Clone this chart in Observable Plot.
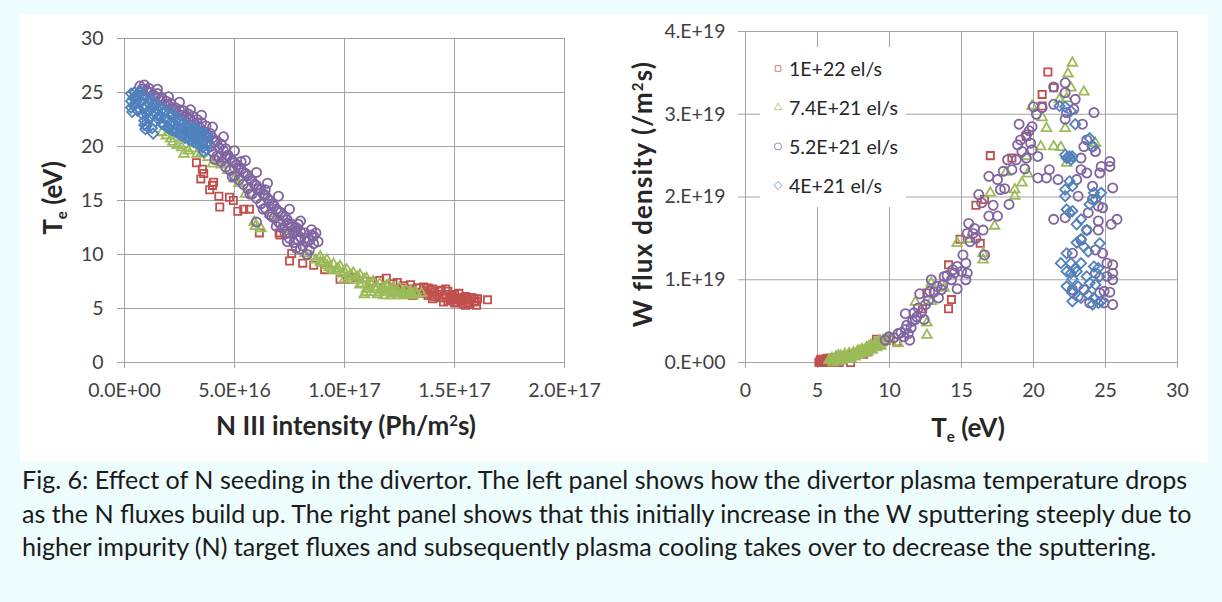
<!DOCTYPE html>
<html><head><meta charset="utf-8">
<script src="https://cdn.jsdelivr.net/npm/d3@7"></script>
<script src="https://cdn.jsdelivr.net/npm/@observablehq/plot@0.6"></script>
<style>
html,body{margin:0;padding:0;}
body{width:1222px;height:602px;background:#edfcfd;position:relative;overflow:hidden;font-family:Lato,"Open Sans",sans-serif;color:#262626;}
#panel{position:absolute;left:20px;top:14px;width:1188px;height:448px;background:#ffffff;}
.chart{position:absolute;top:0;}
.ttl{position:absolute;font-weight:bold;font-size:26px;color:#262626;white-space:nowrap;transform:translate(-50%,-50%);}
.ttl.rot{transform:translate(-50%,-50%) rotate(-90deg);}
.ttl sub{font-size:15px;vertical-align:-5px;}
.ttl sup{font-size:15px;vertical-align:9px;line-height:0;}
#legend{position:absolute;left:760px;top:47px;width:146px;height:160px;background:#fff;}
.lg{position:absolute;left:12px;font-size:19.5px;color:#262626;white-space:nowrap;display:flex;align-items:center;transform:translateY(-50%);}
.lg svg{margin-right:5px;}
#caption{position:absolute;left:22px;top:463px;font-size:21px;line-height:33.5px;color:#1a1a1a;white-space:nowrap;}
</style>
</head><body>
<div id="panel"></div>
<div id="left" class="chart" style="left:20px"></div>
<div id="right" class="chart" style="left:640px"></div>
<div class="ttl rot" style="left:53px;top:198px">T<sub>e</sub> (eV)</div>
<div class="ttl" style="left:346px;top:425px">N III intensity (Ph/m<sup>2</sup>s)</div>
<div class="ttl rot" style="left:642px;top:194px;letter-spacing:1.2px">W flux density (/m<sup>2</sup>s)</div>
<div class="ttl" style="left:968px;top:428px">T<sub>e</sub> (eV)</div>
<div id="legend"></div>
<div id="caption"></div>
<script>
// ---------- series metadata ----------
const seriesNames = ["1E+22 el/s", "7.4E+21 el/s", "5.2E+21 el/s", "4E+21 el/s"];
const seriesColors = ["#C0504D", "#9BBB59", "#8064A2", "#4F81BD"];
const seriesSymbols = ["square2", "triangle2", "circle", "diamond2"];

// ---------- left panel: [N III intensity (1e16 Ph/m2s), Te (eV)] ----------
const leftRed = [[3.27,18.5],[3.54,17.9],[3.6,17.5],[3.47,17.0],[4.05,16.7],[4.0,16.4],[3.87,16.0],[4.29,15.4],[4.33,14.4],[4.77,15.3],[4.95,15.0],[5.15,14.0],[5.42,14.2],[5.68,14.2],[6.13,12.0],[7.03,12.0],[7.07,11.8],[7.5,9.4],[7.6,10.1],[8.1,9.2],[8.6,9.0],[9.1,8.6],[9.8,7.7],[10.2,7.7],[11.2,7.5],[11.9,7.8],[12.4,7.4],[12.7,7.1],[12.9,6.8],[13.0,7.2],[13.2,6.5],[13.4,6.9],[13.5,6.4],[13.6,7.0],[13.8,6.2],[13.9,6.7],[14.0,5.9],[14.1,6.5],[14.3,6.0],[14.4,6.7],[14.5,5.6],[14.6,6.3],[14.7,6.6],[14.8,5.8],[14.9,6.2],[15.0,5.5],[15.1,6.0],[15.2,6.4],[15.3,5.7],[15.4,5.4],[15.5,6.1],[15.6,5.8],[15.7,5.4],[15.8,6.0],[15.9,5.6],[16.0,5.3],[16.05,5.9],[16.5,5.8],[13.6,6.6],[14.2,6.3],[14.8,6.1],[15.3,5.9],[13.1,6.2],[14.0,6.8],[15.0,6.3],[13.3,6.9],[13.7,6.4],[14.1,6.1],[14.3,6.6],[14.5,6.0],[14.7,5.7],[14.9,5.9],[15.1,5.6],[15.2,5.8],[15.4,6.0],[15.6,5.5],[15.7,6.0],[15.9,5.9],[16.0,5.7],[15.5,5.3],[14.6,6.8],[13.8,6.9],[12.6,6.9],[12.2,7.3],[11.6,7.6],[10.5,7.9]];
const leftGreen = [[1.7,21.3],[1.9,21.0],[2.1,20.7],[2.2,20.4],[2.4,20.1],[2.6,19.9],[2.7,19.3],[2.9,19.6],[3.1,19.8],[3.3,19.3],[3.5,19.4],[3.8,19.0],[4.0,18.4],[4.2,18.7],[4.4,18.3],[4.7,17.8],[5.0,17.0],[5.2,16.6],[5.5,15.6],[5.9,13.0],[5.95,12.6],[6.2,12.4],[6.6,13.8],[6.9,13.4],[7.3,12.3],[8.2,10.1],[8.5,9.8],[8.7,9.5],[8.9,9.8],[9.0,9.2],[9.2,9.5],[9.3,8.8],[9.5,9.1],[9.6,8.5],[9.8,8.9],[9.9,8.2],[10.1,8.6],[10.2,7.9],[10.4,8.3],[10.5,7.6],[10.7,8.1],[10.8,7.3],[10.9,6.3],[11.0,7.8],[11.1,7.0],[11.2,6.5],[11.3,7.5],[11.4,6.8],[11.5,6.3],[11.6,7.3],[11.7,6.7],[11.8,6.2],[11.9,7.1],[12.0,6.6],[12.1,6.2],[12.2,6.9],[12.3,6.5],[12.4,6.2],[12.5,6.9],[12.6,6.4],[12.7,6.2],[12.8,6.7],[12.9,6.3],[13.0,6.6],[13.1,6.2],[13.2,6.5],[13.5,6.4],[10.0,7.7],[11.0,6.8],[12.0,7.2],[9.4,8.6],[9.7,8.7],[10.0,8.4],[10.3,8.1],[10.6,7.9],[10.9,7.7],[11.2,7.3],[11.5,7.0],[11.8,6.9],[12.1,6.8],[12.4,6.6],[12.7,6.5],[13.0,6.4],[13.3,6.3],[11.0,6.5],[11.6,6.5],[12.2,6.4],[10.7,7.2],[9.2,9.0],[8.9,9.3]];
const leftPurple = [[0.7,25.6],[0.8,25.3],[0.9,25.7],[1.0,25.2],[0.85,24.8],[1.2,25.0],[1.4,24.6],[1.6,24.3],[1.8,23.9],[2.0,23.8],[2.2,23.5],[2.4,23.1],[2.6,22.9],[2.8,22.8],[3.0,22.5],[3.2,22.1],[3.4,21.8],[3.6,21.4],[3.8,20.9],[3.9,20.0],[4.1,20.4],[4.0,19.5],[4.3,19.9],[4.2,19.1],[4.5,19.6],[4.4,18.6],[4.7,19.2],[4.6,18.1],[4.9,18.7],[4.8,17.8],[5.1,18.3],[5.0,17.3],[5.3,17.9],[5.2,16.9],[5.5,17.5],[5.4,16.5],[5.7,17.0],[5.6,16.1],[5.9,16.5],[5.8,15.6],[6.1,16.1],[6.0,15.2],[6.3,15.6],[6.2,14.7],[6.5,15.2],[6.4,14.3],[6.6,13.7],[6.7,14.7],[6.8,13.4],[6.9,14.2],[7.0,13.0],[7.1,13.9],[7.2,12.5],[7.3,13.5],[7.3,11.9],[7.4,12.9],[7.5,11.5],[7.6,12.6],[7.7,11.1],[7.8,12.2],[7.9,12.8],[8.0,11.6],[8.1,10.8],[8.2,12.0],[8.3,11.2],[8.4,10.4],[8.5,11.8],[8.6,11.0],[8.3,10.0],[6.0,13.0],[4.6,19.8],[5.3,18.6],[6.4,16.0],[2.5,22.4],[3.3,21.2],[1.1,25.4],[1.3,24.8],[1.5,24.9],[1.7,24.5],[1.9,24.2],[2.1,24.0],[2.3,23.6],[2.5,23.4],[2.7,23.3],[2.9,23.0],[3.1,22.8],[3.3,22.5],[3.5,22.2],[3.7,21.9],[3.9,21.2],[4.0,20.8],[4.2,20.5],[4.4,20.2],[4.3,19.0],[4.6,19.0],[4.8,18.9],[5.0,18.5],[5.2,18.0],[5.4,17.6],[5.6,17.3],[5.8,16.8],[6.0,16.4],[6.2,16.0],[6.4,15.5],[6.6,15.0],[6.8,14.5],[7.0,14.0],[7.2,13.6],[7.4,13.2],[7.6,12.8],[7.8,12.5],[8.0,12.1],[8.2,11.5],[8.4,11.3],[8.6,11.7],[8.0,10.5],[7.9,11.3],[7.5,12.0],[7.1,12.8],[6.7,13.5],[7.7,12.0],[1.5,25.3],[2.0,24.6],[2.5,24.1],[3.0,23.4],[3.5,22.9],[4.0,21.8],[4.5,20.9],[5.0,19.6],[5.5,18.7],[6.0,17.6],[6.5,16.6],[7.0,15.4],[7.5,14.2],[8.0,13.1],[8.5,12.3],[8.7,12.0],[8.8,11.2],[4.1,18.8],[4.9,17.2],[5.7,15.6],[6.3,14.2],[6.9,12.6],[7.4,11.2],[7.8,10.6]];
const leftBlue = [[0.3,24.9],[0.3,24.2],[0.3,23.6],[0.35,23.2],[0.4,24.5],[0.45,25.0],[0.5,23.9],[0.55,24.3],[0.6,24.8],[0.65,23.5],[0.7,24.1],[0.75,25.1],[0.8,23.0],[0.85,24.4],[0.9,22.4],[0.95,23.7],[1.0,24.6],[1.0,21.9],[1.05,23.2],[1.1,24.0],[1.15,22.6],[1.2,23.5],[1.3,22.9],[1.35,24.0],[1.4,22.3],[1.5,23.4],[1.55,22.8],[1.6,23.8],[1.7,22.1],[1.75,23.1],[1.8,22.6],[1.9,23.3],[1.95,21.8],[2.0,22.4],[2.1,22.9],[2.15,21.5],[2.2,22.2],[2.3,22.7],[2.35,21.3],[2.4,21.9],[2.5,22.4],[2.55,21.0],[2.6,21.6],[2.7,22.2],[2.75,20.8],[2.8,21.4],[2.9,21.9],[2.95,20.6],[3.0,21.2],[3.1,21.7],[3.15,20.4],[3.2,21.0],[3.3,21.5],[3.35,20.2],[3.4,20.8],[3.5,21.3],[3.55,19.9],[3.6,20.6],[3.65,21.0],[3.7,20.2],[3.75,19.7],[1.25,21.7],[0.9,22.0],[0.4,23.8],[0.5,24.7],[0.6,23.3],[0.7,25.0],[0.8,24.2],[0.9,23.5],[1.0,23.0],[1.1,23.3],[1.2,24.4],[1.3,23.6],[1.4,23.1],[1.5,22.6],[1.6,22.9],[1.7,23.4],[1.8,22.0],[1.9,22.5],[2.0,21.7],[2.1,22.0],[2.2,23.0],[2.3,21.6],[2.4,22.6],[2.5,21.3],[2.6,22.0],[2.7,21.1],[2.8,22.0],[2.9,20.9],[3.0,21.6],[3.1,20.8],[3.2,21.8],[3.3,20.6],[3.4,21.2],[3.5,20.4],[3.6,21.3],[3.7,20.9],[3.8,20.4],[3.75,21.0],[3.6,19.5],[1.3,21.2],[0.95,21.6]];

// ---------- right panel: [Te (eV), W flux density (1e19 /m2s)] ----------
const rightRed = [[21.0,3.51],[20.6,3.24],[21.4,3.32],[20.6,3.10],[19.5,2.73],[18.5,2.47],[17.0,2.50],[16.0,1.90],[16.6,1.97],[14.9,1.49],[16.3,1.44],[14.1,1.18],[14.3,0.76],[14.1,0.65],[12.6,0.84],[12.3,0.65],[10.5,0.25],[9.1,0.28],[5.1,0.0],[5.2,0.03],[5.3,0.0],[5.4,0.02],[5.5,0.04],[5.6,0.0],[5.7,0.03],[5.8,0.01],[5.9,0.05],[6.0,0.02],[6.2,0.06],[6.5,0.0],[7.0,0.08],[7.3,0.0],[7.5,0.1],[8.0,0.12],[8.5,0.13],[9.0,0.2],[5.15,0.01],[5.25,0.04],[5.35,0.02],[5.45,0.0],[5.55,0.02],[5.65,0.05],[5.75,0.0],[5.85,0.03],[5.95,0.0],[6.1,0.03],[6.3,0.02],[6.7,0.05],[7.7,0.1],[8.2,0.1],[8.8,0.18],[9.4,0.25],[9.8,0.27]];
const rightGreen = [[22.7,3.62],[22.4,3.49],[22.6,3.32],[23.5,3.27],[22.3,3.19],[21.8,3.18],[19.9,3.10],[20.6,2.96],[20.9,2.83],[20.5,2.61],[21.4,2.61],[21.9,2.60],[22.2,2.83],[22.3,2.41],[24.3,2.65],[19.5,2.49],[19.6,2.28],[19.2,2.17],[18.7,2.09],[18.7,2.01],[18.1,2.30],[17.0,2.05],[17.3,1.65],[16.5,1.32],[16.5,1.24],[15.5,1.49],[14.7,1.44],[13.8,0.90],[12.9,0.96],[12.9,0.74],[12.6,0.48],[12.6,0.33],[11.8,0.73],[10.6,0.23],[5.8,0.03],[6.0,0.05],[6.1,0.0],[6.2,0.04],[6.3,0.07],[6.4,0.02],[6.5,0.05],[6.6,0.08],[6.7,0.03],[6.8,0.06],[6.9,0.1],[7.0,0.04],[7.1,0.07],[7.2,0.11],[7.3,0.05],[7.4,0.09],[7.5,0.12],[7.6,0.07],[7.7,0.1],[7.8,0.14],[7.9,0.09],[8.0,0.12],[8.1,0.16],[8.2,0.11],[8.3,0.14],[8.4,0.18],[8.5,0.13],[8.6,0.17],[8.7,0.21],[8.8,0.15],[8.9,0.19],[9.0,0.23],[9.1,0.18],[9.2,0.22],[9.3,0.26],[9.4,0.2],[9.5,0.24],[9.7,0.27],[10.0,0.3],[6.05,0.02],[6.25,0.06],[6.45,0.08],[6.55,0.02],[6.75,0.06],[6.95,0.07],[7.15,0.04],[7.35,0.08],[7.55,0.09],[7.75,0.12],[7.95,0.14],[8.15,0.13],[8.35,0.16],[8.55,0.19],[8.75,0.18],[8.95,0.21],[9.15,0.24],[9.35,0.22],[9.55,0.27],[9.8,0.29]];
const rightPurple = [[22.2,3.38],[22.2,3.26],[21.4,3.33],[22.9,3.18],[22.8,3.06],[22.3,3.02],[22.2,2.94],[24.2,3.02],[21.4,3.12],[20.6,3.08],[20.2,3.0],[20.0,3.09],[19.9,2.85],[19.0,2.88],[19.5,2.75],[19.1,2.69],[18.9,2.63],[19.8,2.65],[19.9,2.57],[19.5,2.47],[20.3,2.49],[18.5,2.33],[17.9,2.31],[18.2,2.45],[19.4,2.34],[20.3,2.23],[21.1,2.33],[20.9,2.23],[17.5,2.21],[17.7,2.09],[16.9,2.25],[18.3,1.91],[17.5,1.77],[16.9,1.77],[16.5,1.60],[16.2,2.03],[16.4,1.93],[15.5,1.68],[15.4,1.56],[15.8,1.56],[15.6,1.46],[16.6,1.30],[15.1,1.30],[14.7,1.16],[15.3,1.20],[15.0,1.10],[15.3,1.00],[15.4,1.08],[14.7,0.89],[14.3,1.0],[13.8,1.04],[13.7,0.94],[13.4,0.78],[12.9,1.0],[12.8,0.86],[12.5,0.70],[12.1,0.83],[11.7,0.60],[11.1,0.59],[11.8,0.52],[11.5,0.42],[11.1,0.40],[11.0,0.31],[10.6,0.35],[11.4,0.27],[9.95,0.31],[9.7,0.27],[23.4,2.88],[23.5,2.61],[23.7,2.69],[24.1,2.61],[23.3,2.47],[24.3,2.55],[23.3,2.33],[24.7,2.37],[25.3,2.43],[25.3,2.37],[24.6,2.29],[23.7,2.29],[23.0,2.21],[21.7,2.21],[25.5,2.11],[23.1,2.01],[24.1,2.13],[24.1,1.97],[24.5,1.89],[24.8,1.87],[23.8,1.81],[22.2,1.75],[21.4,1.73],[25.8,1.73],[25.4,1.67],[24.5,1.71],[23.7,1.60],[24.5,1.60],[24.3,1.36],[24.8,1.32],[25.1,1.20],[25.5,1.18],[25.5,1.08],[25.1,1.04],[24.9,0.86],[25.3,0.85],[25.5,1.0],[25.5,0.70],[24.9,0.72],[24.6,0.84],[23.9,0.72],[23.5,0.88],[22.7,0.88],[23.1,0.80],[22.7,1.32],[23.3,1.48],[24.3,1.08],[10.3,0.3],[10.8,0.36],[11.2,0.45],[11.6,0.5],[11.9,0.55],[12.2,0.6],[12.4,0.52],[11.3,0.35],[12.0,0.66],[12.7,0.75],[13.1,0.85],[13.3,0.92],[13.6,0.88],[14.0,1.05],[14.4,1.12],[14.5,1.08],[16.0,1.5],[15.9,1.62],[17.2,1.9],[18.0,2.1],[18.8,2.45],[19.2,2.55],[19.7,2.8]];
const rightBlue = [[21.8,3.10],[22.2,3.09],[22.6,3.04],[22.9,2.88],[23.9,2.71],[24.1,2.61],[22.2,2.51],[22.5,2.49],[22.7,2.49],[22.3,2.47],[22.6,2.45],[22.5,2.19],[22.2,2.09],[22.7,2.13],[22.2,2.01],[24.2,2.05],[24.3,1.97],[24.7,2.05],[23.9,1.91],[22.3,1.85],[22.7,1.83],[22.5,1.81],[23.3,1.73],[23.0,1.67],[23.7,1.60],[23.3,1.49],[23.0,1.45],[24.6,1.44],[23.5,1.40],[23.8,1.34],[22.3,1.32],[23.3,1.20],[21.9,1.20],[22.3,1.10],[22.6,1.08],[23.0,1.10],[22.7,1.01],[23.7,1.04],[24.2,1.16],[24.5,1.14],[24.6,1.04],[23.9,0.96],[24.3,0.94],[22.3,0.92],[23.1,0.92],[22.7,0.84],[23.8,0.82],[23.3,0.78],[22.7,0.74],[24.2,0.78],[24.1,0.70],[24.5,0.72],[24.7,0.74],[22.6,1.20],[22.9,1.14]];

// ---------- tick values ----------
const leftXTicks = [0, 5e16, 1e17, 1.5e17, 2e17];
const leftYTicks = [0, 5, 10, 15, 20, 25, 30];
const rightXTicks = [0, 5, 10, 15, 20, 25, 30];
const rightYTicks = [0, 1e19, 2e19, 3e19, 4e19];

const captionLines = [
  "Fig. 6: Effect of N seeding in the divertor. The left panel shows how the divertor plasma temperature drops",
  "as the N fluxes build up. The right panel shows that this initially increase in the W sputtering steeply due to",
  "higher impurity (N) target fluxes and subsequently plasma cooling takes over to decrease the sputtering."
];

// ---------- build tables ----------
const leftData = [leftRed, leftGreen, leftPurple, leftBlue].flatMap((arr, i) =>
  arr.map(([x, y]) => ({s: seriesNames[i], x: x * 1e16, y})));
const rightData = [rightRed, rightGreen, rightPurple, rightBlue].flatMap((arr, i) =>
  arr.map(([x, y]) => ({s: seriesNames[i], x, y: y * 1e19})));

function sci(digits) {
  return d => {
    const [m, e] = d.toExponential(digits).split("e");
    const n = +e;
    return (digits === 0 ? m + "." : m) + "E" + (n < 0 ? "-" : "+") + String(Math.abs(n)).padStart(2, "0");
  };
}

const gridColor = "#a3a3a3";
const style = {fontFamily: "Lato, 'Open Sans', sans-serif", fontSize: "19.5px", color: "#404040", background: "transparent", overflow: "visible"};
const dotOpts = {x: "x", y: "y", symbol: "s", stroke: "s", fill: "none", r: 4.6, strokeWidth: 1.8};
const scales = {
  color: {domain: seriesNames, range: seriesColors},
  symbol: {domain: seriesNames, range: seriesSymbols}
};

const leftPlot = Plot.plot({
  width: 600, height: 460,
  marginLeft: 104, marginRight: 56, marginTop: 38, marginBottom: 98,
  style,
  x: {domain: [0, 2e17]},
  y: {domain: [0, 30]},
  ...scales,
  marks: [
    Plot.gridX(leftXTicks, {stroke: gridColor, strokeOpacity: 1}),
    Plot.gridY(leftYTicks, {stroke: gridColor, strokeOpacity: 1}),
    Plot.axisX(leftXTicks, {tickFormat: sci(1), tickSize: 6, tickPadding: 15, stroke: gridColor, fill: "#404040", label: null}),
    Plot.axisY(leftYTicks, {tickSize: 7, tickPadding: 14, stroke: gridColor, fill: "#404040", label: null}),
    Plot.dot(leftData, dotOpts)
  ]
});
document.getElementById("left").append(leftPlot);

const rightPlot = Plot.plot({
  width: 570, height: 460,
  marginLeft: 105, marginRight: 33, marginTop: 31, marginBottom: 98,
  style,
  x: {domain: [0, 30]},
  y: {domain: [0, 4e19]},
  ...scales,
  marks: [
    Plot.gridX(rightXTicks, {stroke: gridColor, strokeOpacity: 1}),
    Plot.gridY(rightYTicks, {stroke: gridColor, strokeOpacity: 1}),
    Plot.axisX(rightXTicks, {tickSize: 6, tickPadding: 15, stroke: gridColor, fill: "#404040", label: null}),
    Plot.axisY(rightYTicks, {tickFormat: sci(0), tickSize: 7, tickPadding: 13, stroke: gridColor, fill: "#404040", label: null}),
    Plot.dot(rightData, dotOpts)
  ]
});
document.getElementById("right").append(rightPlot);

// ---------- legend ----------
const legend = document.getElementById("legend");
const legendTops = [21, 60, 99, 138];
seriesNames.forEach((name, i) => {
  const row = document.createElement("div");
  row.className = "lg";
  row.style.top = legendTops[i] + "px";
  const sym = {square2: d3.symbolSquare2, triangle2: d3.symbolTriangle2, circle: d3.symbolCircle, diamond2: d3.symbolDiamond2}[seriesSymbols[i]];
  const path = d3.symbol(sym, 40)();
  row.innerHTML = `<svg width="12" height="12" viewBox="-6 -6 12 12"><path d="${path}" fill="none" stroke="${seriesColors[i]}" stroke-width="1" opacity="0.75"/></svg><span>${name}</span>`;
  legend.append(row);
});

// ---------- caption ----------
const cap = document.getElementById("caption");
cap.innerHTML = captionLines.map(l => `<div>${l}</div>`).join("");
const ctx = document.createElement("canvas").getContext("2d");
ctx.font = "21px Lato";
const w = ctx.measureText(captionLines[0]).width;
cap.style.fontSize = (21 * 1168 / w).toFixed(2) + "px";
</script>
</body></html>
